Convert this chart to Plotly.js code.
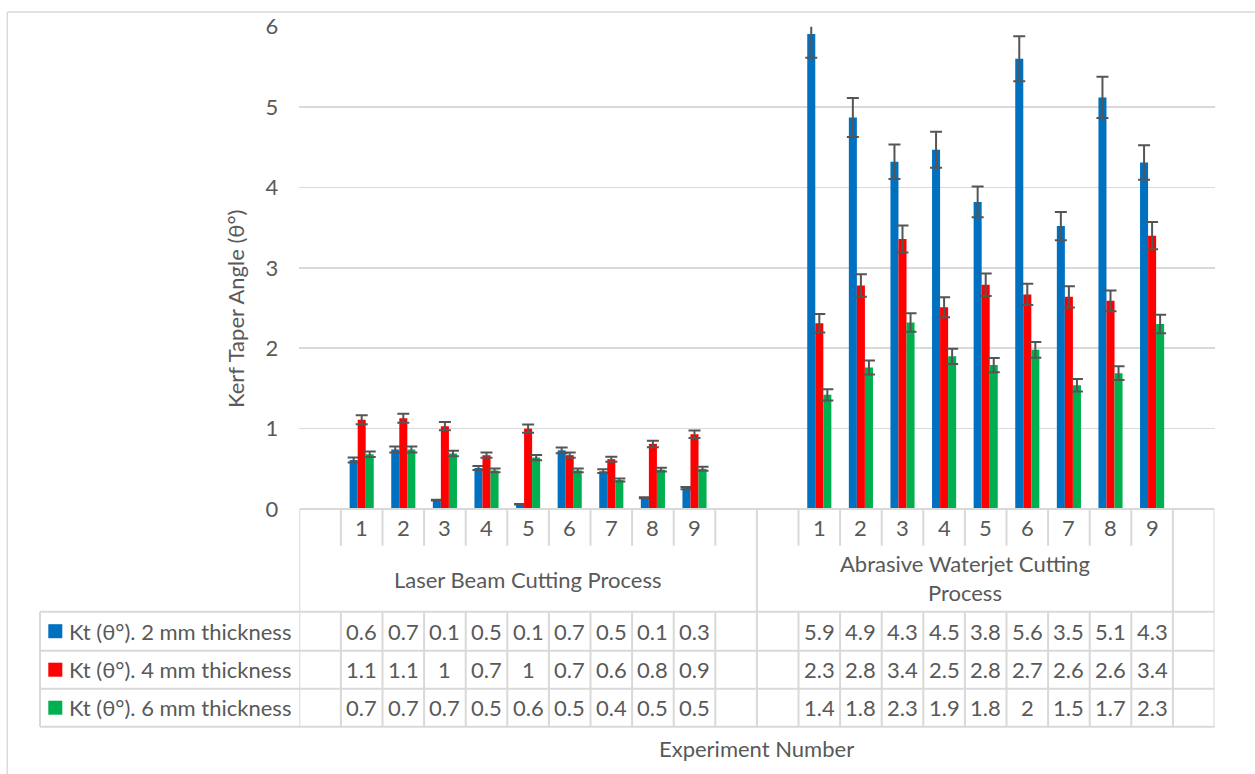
<!DOCTYPE html>
<html>
<head>
<meta charset="utf-8">
<script src="https://cdn.plot.ly/plotly-3.0.1.min.js"></script>
<style>
  html, body { margin: 0; padding: 0; background: #ffffff; }
  #chart { width: 1255px; height: 774px; }
</style>
</head>
<body>
<div id="chart"></div>
<script>
// ---------------- data ----------------
const groupLabels = ["Laser Beam Cutting Process", "Abrasive Waterjet Cutting<br>Process"];
const experiments = ["1", "2", "3", "4", "5", "6", "7", "8", "9"];
const seriesNames = ["Kt (θ°). 2 mm thickness", "Kt (θ°). 4 mm thickness", "Kt (θ°). 6 mm thickness"];

const laser2mm = [0.61, 0.74, 0.11, 0.51, 0.06, 0.73, 0.47, 0.14, 0.26];
const laser4mm = [1.11, 1.13, 1.03, 0.67, 1.00, 0.67, 0.62, 0.81, 0.93];
const laser6mm = [0.68, 0.74, 0.69, 0.48, 0.64, 0.48, 0.36, 0.49, 0.50];

const awj2mm = [5.91, 4.87, 4.32, 4.47, 3.82, 5.60, 3.52, 5.12, 4.31];
const awj4mm = [2.31, 2.78, 3.36, 2.51, 2.79, 2.67, 2.64, 2.59, 3.40];
const awj6mm = [1.42, 1.76, 2.32, 1.90, 1.79, 1.98, 1.54, 1.69, 2.30];

const yTicks = [0, 1, 2, 3, 4, 5, 6];
const yTitle = "Kerf Taper Angle (θ°)";
const xTitle = "Experiment Number";

// ---------------- styling / layout helpers ----------------
const colors = ["#0070C0", "#FF0000", "#00B050"];
const textColor = "#595959";
const lineColor = "#D9D9D9";
const FONT = "Lato, 'Open Sans', sans-serif";
const FS = 22;
const W = 1255, H = 774;
const px = x => x / W;
const py = y => 1 - y / H;

// slot structure: group 0 = [empty, 1..9, empty], group 1 = [empty, 1..9], then one extra empty slot
const groupStart = [1, 12];
const groupSpan = [[-0.5, 10.5], [10.5, 20.5]];
const nSlots = 22;

const seriesData = [[laser2mm, awj2mm], [laser4mm, awj4mm], [laser6mm, awj6mm]];
const fmt = v => String(Number(v.toFixed(1)));

const traces = seriesData.map((pair, s) => {
  const xs = [], ys = [];
  pair.forEach((arr, g) => arr.forEach((v, i) => { xs.push(groupStart[g] + i); ys.push(v); }));
  return {
    type: "bar", name: seriesNames[s], x: xs, y: ys,
    marker: { color: colors[s], line: { width: 0 } },
    error_y: { type: "percent", value: 5, color: "#555555", thickness: 2, width: 6 },
    hoverinfo: "skip"
  };
});

// table geometry (pixel rows)
const yAxisPx = 509, yNumBottom = 545.7, yGroupBottom = 611.7;
const rowBottoms = [650.7, 688.7, 726.7];
const rowTops = [611.7, 650.7, 688.7];
const legendLeft = 40;

const shapes = [];
const ln = (x0, y0, x1, y1, xref, w) => shapes.push({
  type: "line", xref: xref || "paper", yref: "paper",
  x0: x0, x1: x1, y0: py(y0), y1: py(y1),
  line: { color: lineColor, width: w || 2 }
});

// outer chart frame (left & top)
ln(px(7.3), 12, px(7.3), 774, "paper", 1.5);
ln(px(7.3), 12, px(1255), 12, "paper", 1.5);

// horizontal table lines
shapes.push({ type: "line", xref: "x", yref: "paper", x0: -0.5, x1: nSlots - 0.5, y0: py(yAxisPx), y1: py(yAxisPx), line: { color: lineColor, width: 2 } });
[yGroupBottom].concat(rowBottoms).forEach(y => {
  shapes.push({ type: "line", xref: "paper", yref: "paper", x0: px(legendLeft), x1: px(1214.5), y0: py(y), y1: py(y), line: { color: lineColor, width: 2 } });
});
// legend left border
ln(px(legendLeft), yGroupBottom, px(legendLeft), rowBottoms[2], "paper", 2);
// vertical lines
const fullBounds = [-0.5, 10.5, 20.5, 21.5];
for (let k = 0; k <= nSlots; k++) {
  const xb = k - 0.5;
  if (fullBounds.indexOf(xb) >= 0) {
    shapes.push({ type: "line", xref: "x", yref: "paper", x0: xb, x1: xb, y0: py(yAxisPx), y1: py(rowBottoms[2]), line: { color: lineColor, width: 2 } });
  } else {
    shapes.push({ type: "line", xref: "x", yref: "paper", x0: xb, x1: xb, y0: py(yAxisPx), y1: py(yNumBottom), line: { color: lineColor, width: 2 } });
    shapes.push({ type: "line", xref: "x", yref: "paper", x0: xb, x1: xb, y0: py(yGroupBottom), y1: py(rowBottoms[2]), line: { color: lineColor, width: 2 } });
  }
}
// legend keys
seriesNames.forEach((n, s) => {
  const yc = (rowTops[s] + rowBottoms[s]) / 2;
  shapes.push({ type: "rect", xref: "paper", yref: "paper", x0: px(48.3), x1: px(62.3), y0: py(yc - 7), y1: py(yc + 7), fillcolor: colors[s], line: { width: 0 } });
});

const annotations = [];
const font = { family: FONT, size: FS, color: textColor };
const ann = (o) => annotations.push(Object.assign({ showarrow: false, font: font, xanchor: "center", yanchor: "middle" }, o));

// axis titles
ann({ xref: "paper", yref: "paper", x: px(235), y: py(309), text: yTitle, textangle: -90 });
ann({ xref: "paper", yref: "paper", x: px(756), y: py(748), text: xTitle });

// category numbers and group labels
groupStart.forEach((st, g) => {
  experiments.forEach((e, i) => ann({ xref: "x", yref: "paper", x: st + i, y: py(527), text: e }));
  ann({ xref: "x", yref: "paper", x: (groupSpan[g][0] + groupSpan[g][1]) / 2, y: py(g === 0 ? 579 : 578), text: groupLabels[g] });
});

// data table cells and legend text
seriesData.forEach((pair, s) => {
  const yc = (rowTops[s] + rowBottoms[s]) / 2;
  ann({ xref: "paper", yref: "paper", x: px(66.5), y: py(yc), text: seriesNames[s], xanchor: "left" });
  pair.forEach((arr, g) => arr.forEach((v, i) => {
    ann({ xref: "x", yref: "paper", x: groupStart[g] + i, y: py(yc), text: fmt(v) });
  }));
});

const layout = {
  width: W, height: H,
  margin: { l: 0, r: 0, t: 0, b: 0 },
  paper_bgcolor: "#ffffff", plot_bgcolor: "#ffffff",
  showlegend: false,
  barmode: "group", bargap: 0.42, bargroupgap: 0,
  font: font,
  xaxis: {
    domain: [px(299.3), px(1214.5)], range: [-0.5, nSlots - 0.5],
    showticklabels: false, showgrid: false, zeroline: false, showline: false, ticks: "", fixedrange: true
  },
  yaxis: {
    domain: [py(509), py(26.7)], range: [0, 6],
    tickvals: yTicks, ticktext: yTicks.map(String),
    showgrid: true, gridcolor: lineColor, gridwidth: 1.5,
    zeroline: false, showline: false, ticks: "",
    tickfont: font, ticklabelstandoff: 20, automargin: false, fixedrange: true
  },
  shapes: shapes,
  annotations: annotations
};

Plotly.newPlot("chart", traces, layout, { staticPlot: true, displayModeBar: false });
</script>
</body>
</html>
